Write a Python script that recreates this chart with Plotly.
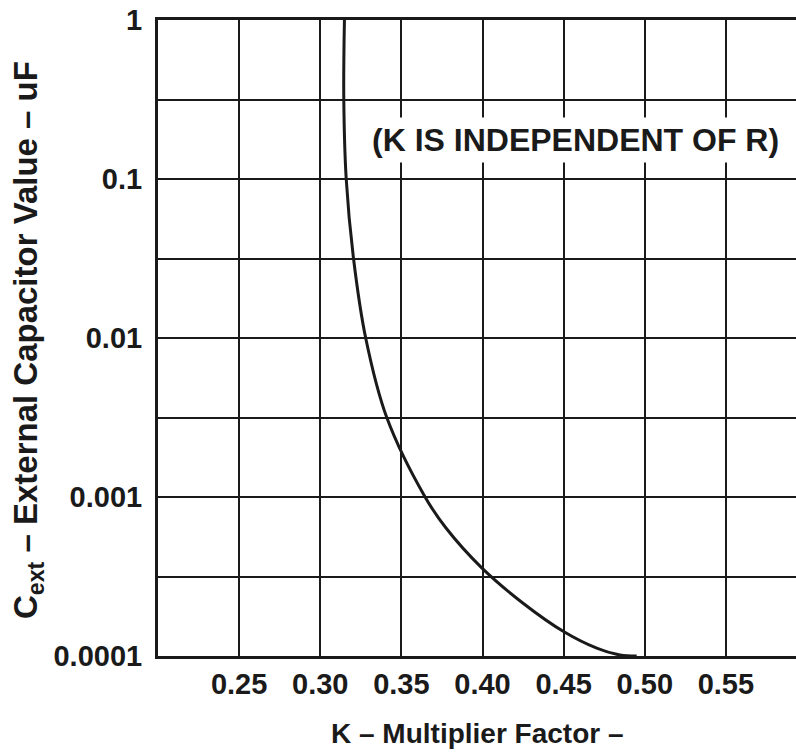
import plotly.graph_objects as go

# Curve data (K multiplier vs external capacitance in uF)
k_values = [0.3149, 0.3145, 0.3160, 0.3205, 0.3280, 0.3410, 0.3646, 0.3775, 0.3997,
            0.4252, 0.4502, 0.4704, 0.4847, 0.4950]
c_values = [1.0, 0.316, 0.1, 0.0316, 0.01, 0.00316, 0.001, 0.000638, 0.000357,
            0.000214, 0.000142, 0.000112, 0.0001015, 0.0001]

x_ticks = [0.25, 0.30, 0.35, 0.40, 0.45, 0.50, 0.55]
x_tick_labels = ["0.25", "0.30", "0.35", "0.40", "0.45", "0.50", "0.55"]
y_ticks = [0.0001, 0.001, 0.01, 0.1, 1]
y_tick_labels = ["0.0001", "0.001", "0.01", "0.1", "1"]
y_minor = [10 ** -3.5, 10 ** -2.5, 10 ** -1.5, 10 ** -0.5]

x_title = "K – Multiplier Factor –"
y_title = "C<sub>ext</sub> – External Capacitor Value – uF"
note = "(K IS INDEPENDENT OF R)"

INK = "#1a1a1a"
FONT = "Liberation Sans, Arial, Helvetica, sans-serif"

W, H = 796, 753
ML, MR, MT, MB = 158, 0, 20, 97
PW, PH = W - ML - MR, H - MT - MB

fig = go.Figure()
fig.add_trace(go.Scatter(
    x=k_values, y=c_values, mode="lines",
    line=dict(color=INK, width=3, shape="spline", smoothing=1.0),
    hoverinfo="skip", showlegend=False,
))

fig.add_annotation(
    x=0.4576, y=-0.755, xref="x", yref="y",
    text="<b>" + note + "</b>", showarrow=False,
    font=dict(family=FONT, size=32, color=INK),
    bgcolor="white", borderpad=4,
)

fig.add_annotation(
    x=0.5, y=-(733 - (H - MB)) / PH, xref="paper", yref="paper",
    xanchor="center", yanchor="middle",
    text="<b>" + x_title + "</b>", showarrow=False,
    font=dict(family=FONT, size=28, color=INK),
)

fig.add_annotation(
    x=-(ML - 28) / PW, y=((H - MB) - 340) / PH, xref="paper", yref="paper",
    xanchor="center", yanchor="middle", textangle=-90,
    text="<b>" + y_title + "</b>", showarrow=False,
    font=dict(family=FONT, size=33, color=INK),
)

fig.update_layout(
    width=W, height=H,
    margin=dict(l=ML, r=MR, t=MT, b=MB, autoexpand=False),
    paper_bgcolor="white", plot_bgcolor="white",
    font=dict(family=FONT, color=INK, size=30),
    showlegend=False,
)

fig.update_xaxes(
    range=[0.20, 0.5932],
    tickvals=x_ticks, ticktext=["<b>" + t + "</b>" for t in x_tick_labels],
    showgrid=True, gridcolor=INK, gridwidth=2,
    showline=True, linecolor=INK, linewidth=3, mirror=True,
    ticks="", ticklabelstandoff=0,
    tickfont=dict(size=29),
    zeroline=False, automargin=False,
)

fig.update_yaxes(
    type="log", range=[-4, 0],
    tickvals=y_ticks, ticktext=["<b>" + t + "</b>" for t in y_tick_labels],
    showgrid=True, gridcolor=INK, gridwidth=2,
    minor=dict(tickvals=y_minor, showgrid=True, gridcolor=INK, gridwidth=2, ticks=""),
    showline=True, linecolor=INK, linewidth=3,
    ticks="", ticklabelstandoff=7,
    tickfont=dict(size=29),
    zeroline=False, automargin=False,
)

fig.write_html(
    "out.html",
    config={"displayModeBar": False, "staticPlot": True},
    post_script="document.body.style.margin='0';document.body.style.overflow='hidden';",
)
